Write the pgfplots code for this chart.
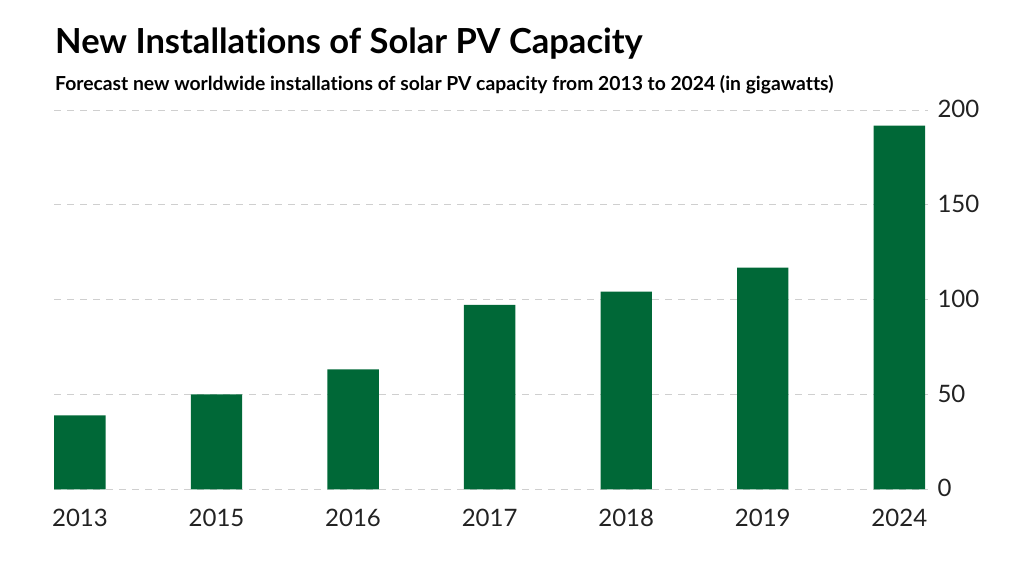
\documentclass[border=0pt]{standalone}
\usepackage{fontspec}
\setmainfont{Lato}[Ligatures=NoCommon]
\usepackage{pgfplots}
\pgfplotsset{compat=1.18}

\definecolor{solargreen}{HTML}{006837}
\definecolor{gridgray}{HTML}{CFCFCF}
\definecolor{labelgray}{HTML}{222222}

\begin{document}
\begin{tikzpicture}[x=1pt,y=1pt]
\path[use as bounding box] (0,0) rectangle (1024,576);

% heading
\node[anchor=base west, inner sep=0pt] at (55,522)
  {\fontsize{34.5}{34.5}\selectfont\bfseries New Installations of Solar PV Capacity};
\node[anchor=base west, inner sep=0pt] at (55,485)
  {\fontsize{19.3}{19.3}\selectfont\bfseries Forecast new worldwide installations of solar PV capacity from 2013 to 2024 (in gigawatts)};

\begin{axis}[
  at={(54pt,86.7pt)}, anchor=south west,
  scale only axis, width=874pt, height=379.3pt,
  xmin=-0.19, xmax=6.21, ymin=0, ymax=200,
  axis line style={draw=none},
  ytick={0,50,100,150,200},
  ymajorgrids, xmajorgrids=false,
  grid style={gridgray, line width=0.9pt, dash pattern=on 7pt off 6pt},
  xtick=data,
  xticklabels={2013,2015,2016,2017,2018,2019,2024},
  major tick length=0pt,
  tick style={draw=none},
  yticklabel pos=right,
  ticklabel style={font=\fontsize{24}{24}\selectfont, text=labelgray},
  yticklabel style={anchor=west, xshift=6pt, yshift=1pt},
  xticklabel style={anchor=north, yshift=-16pt},
  /pgf/number format/assume math mode=true,
  clip=false,
]
\addplot[ybar, bar width=51.4pt, fill=solargreen, draw=none]
  coordinates {(0,39) (1,50) (2,63.3) (3,97.3) (4,104.2) (5,116.9) (6,191.8)};
\end{axis}
\end{tikzpicture}
\end{document}
